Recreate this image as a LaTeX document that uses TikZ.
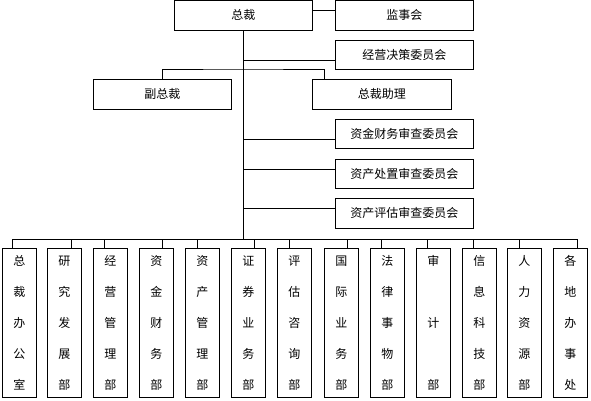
\documentclass[tikz,border=0pt]{standalone}
\usepackage{fontspec}
\newfontfamily\cjk{Noto Sans CJK SC}
\begin{document}
\begin{tikzpicture}[x=1pt,y=-1pt,
  box/.style={draw=black, line width=0.8pt, fill=white, inner sep=0pt, anchor=north west,
    font=\cjk\fontsize{12}{14}\selectfont},
  dept/.style={box, minimum width=34, minimum height=149, align=center,
    font=\cjk\fontsize{12}{31}\selectfont},
  wire/.style={draw=black, line width=0.8pt}]
\useasboundingbox (0,0) rectangle (591,400);
% top boxes
\node[box, minimum width=138, minimum height=30] (zc) at (174,0) {总裁};
\node[box, minimum width=138, minimum height=30] (js) at (335,0) {监事会};
\node[box, minimum width=138, minimum height=29] (jy) at (335,40) {经营决策委员会};
\node[box, minimum width=138, minimum height=30] (fz) at (93,79) {副总裁};
\node[box, minimum width=139, minimum height=30] (zl) at (312,79) {总裁助理};
\node[box, minimum width=138, minimum height=29] (c1) at (335,119) {资金财务审查委员会};
\node[box, minimum width=138, minimum height=29] (c2) at (335,159) {资产处置审查委员会};
\node[box, minimum width=138, minimum height=30] (c3) at (335,198) {资产评估审查委员会};
% trunk coordinates
\coordinate (t1) at (243,60);
\coordinate (t2) at (243,69);
\coordinate (t3) at (243,139);
\coordinate (t4) at (243,169);
\coordinate (t5) at (243,208);
\coordinate (busL) at (12,239);
\coordinate (busR) at (577,239);
% connectors
\draw[wire] ([yshift=5pt]zc.east) -- ([yshift=5pt]js.west);
\draw[wire] (zc.south) -- (zc.south |- busL);
\draw[wire] (t1) -- (t1 -| jy.west);
\draw[wire] (fz.north) |- (t2) -| ([xshift=12pt]zl.north west);
\draw[wire] (t3) -- (t3 -| c1.west);
\draw[wire] (t4) -- (t4 -| c2.west);
\draw[wire] (t5) -- (t5 -| c3.west);
\draw[wire] (busL) -- (busR);
% departments
\foreach \i/\x/\off/\t in {
  0/2/10/{总\\裁\\办\\公\\室},
  1/47/24/{研\\究\\发\\展\\部},
  2/93/11/{经\\营\\管\\理\\部},
  3/139/23/{资\\金\\财\\务\\部},
  4/185/12/{资\\产\\管\\理\\部},
  5/231/23/{证\\券\\业\\务\\部},
  6/277/12/{评\\估\\咨\\询\\部},
  7/324/23/{国\\际\\业\\务\\部},
  8/370/11/{法\\律\\事\\物\\部},
  9/416/11/{审\\~\\计\\~\\部},
  10/462/11/{信\\息\\科\\技\\部},
  11/507/12/{人\\力\\资\\源\\部},
  12/553/24/{各\\地\\办\\事\\处}}{
  \node[dept] (d\i) at (\x,248) {\t};
  \draw[wire] ([xshift=\off pt]d\i.north west) -- ([xshift=\off pt]d\i.north west |- busL);
}
\end{tikzpicture}
\end{document}
